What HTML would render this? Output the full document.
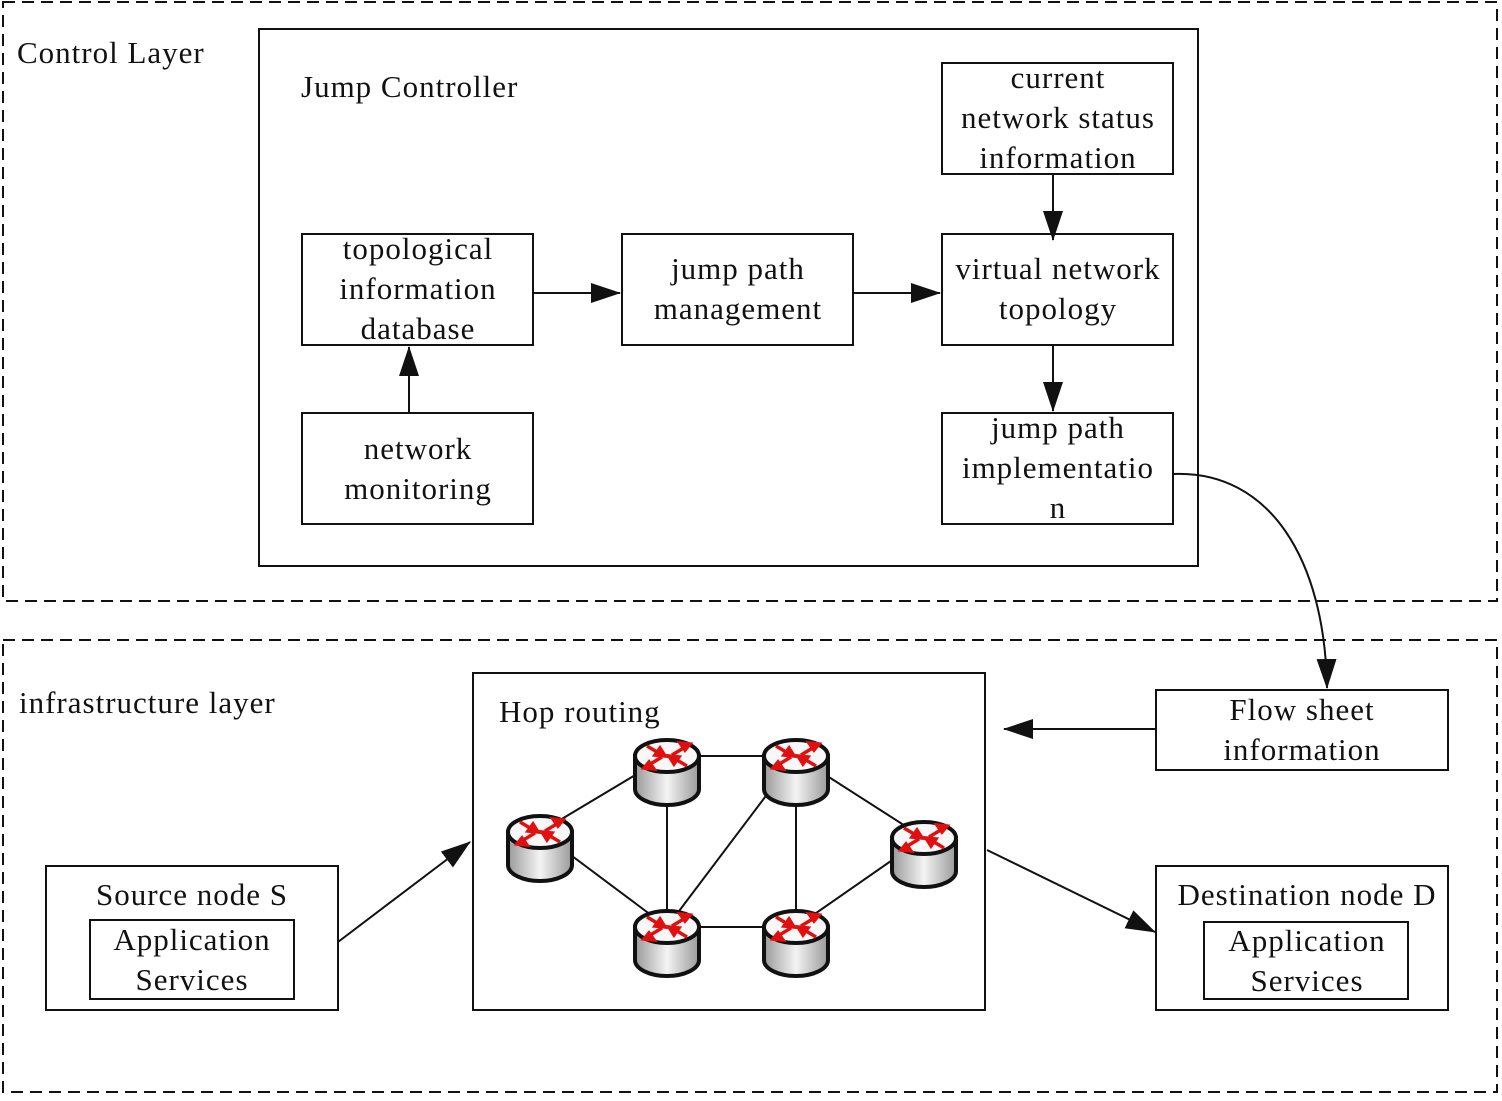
<!DOCTYPE html>
<html><head><style>
body{margin:0;background:#fff}
svg text{font-family:"Liberation Serif",serif;font-size:31px;fill:#111;letter-spacing:1px}
</style></head><body>
<svg width="1502" height="1096" viewBox="0 0 1502 1096" xmlns="http://www.w3.org/2000/svg">
<defs>
<marker id="b" markerWidth="30" markerHeight="20" refX="29" refY="10" orient="auto" markerUnits="userSpaceOnUse" viewBox="0 0 30 20"><path d="M0,0 L30,10 L0,20 z" fill="#111"/></marker>
<linearGradient id="g" x1="0" x2="1"><stop offset="0" stop-color="#999"/><stop offset="0.5" stop-color="#f4f4f4"/><stop offset="1" stop-color="#999"/></linearGradient>
<g id="r">
<path d="M-32,-16 L-32,17 A32,16 0 0 0 32,17 L32,-16 z" fill="url(#g)" stroke="#111" stroke-width="4"/>
<ellipse cx="0" cy="-16" rx="32" ry="16" fill="#f8f8f8" stroke="#111" stroke-width="4"/>
<g stroke="#e01010" stroke-width="3.5" fill="#e01010">
<line x1="-20" y1="-26" x2="-5" y2="-17"/><line x1="5" y1="-15" x2="20" y2="-6"/>
<line x1="20" y1="-26" x2="5" y2="-17"/><line x1="-5" y1="-15" x2="-20" y2="-6"/>
<path d="M-2,-16 l-10,-1 l5,-7z"/><path d="M23,-28 l-10,-1 l5,7z"/><path d="M-23,-4 l10,1 l-5,-7z"/><path d="M2,-16 l10,1 l-5,7z"/>
</g></g>
</defs>
<g fill="none" stroke="#111" stroke-width="2">
<rect x="3" y="2" width="1494" height="599" stroke-dasharray="12,7"/>
<rect x="3" y="640" width="1494" height="452" stroke-dasharray="12,7"/>
<rect x="259" y="29" width="939" height="537"/>
<rect x="942" y="63" width="231" height="111"/>
<rect x="302" y="234" width="231" height="111"/>
<rect x="622" y="234" width="231" height="111"/>
<rect x="942" y="234" width="231" height="111"/>
<rect x="302" y="413" width="231" height="111"/>
<rect x="942" y="413" width="231" height="111"/>
<rect x="473" y="673" width="512" height="337"/>
<rect x="1156" y="690" width="292" height="80"/>
<rect x="46" y="866" width="292" height="144"/>
<rect x="90" y="920" width="204" height="79"/>
<rect x="1156" y="866" width="292" height="144"/>
<rect x="1204" y="922" width="204" height="77"/>
<line x1="533" y1="293" x2="620" y2="293" marker-end="url(#b)"/>
<line x1="853" y1="293" x2="940" y2="293" marker-end="url(#b)"/>
<line x1="1053" y1="174" x2="1053" y2="240" marker-end="url(#b)"/>
<line x1="1053" y1="345" x2="1053" y2="411" marker-end="url(#b)"/>
<line x1="409" y1="412" x2="409" y2="347" marker-end="url(#b)"/>
<path d="M1173,474 C1270,470 1325,560 1327,688" marker-end="url(#b)"/>
<line x1="1156" y1="729" x2="1004" y2="729" marker-end="url(#b)"/>
<line x1="338" y1="942" x2="470" y2="842" marker-end="url(#b)"/>
<line x1="987" y1="850" x2="1155" y2="932" marker-end="url(#b)"/>
<line x1="540" y1="832" x2="667" y2="756"/>
<line x1="667" y1="756" x2="796" y2="756"/>
<line x1="667" y1="756" x2="667" y2="927"/>
<line x1="540" y1="832" x2="667" y2="927"/>
<line x1="796" y1="756" x2="796" y2="927"/>
<line x1="796" y1="756" x2="667" y2="927"/>
<line x1="796" y1="756" x2="924" y2="838"/>
<line x1="667" y1="927" x2="796" y2="927"/>
<line x1="796" y1="927" x2="924" y2="838"/>
</g>
<use href="#r" x="540" y="848"/><use href="#r" x="667" y="772"/><use href="#r" x="796" y="772"/>
<use href="#r" x="924" y="854"/><use href="#r" x="667" y="943"/><use href="#r" x="796" y="943"/>
<text x="17" y="63">Control Layer</text>
<text x="301" y="97">Jump Controller</text>
<text x="19" y="713">infrastructure layer</text>
<text x="499" y="722">Hop routing</text>
<g text-anchor="middle">
<text x="1058" y="88">current</text><text x="1058" y="128">network status</text><text x="1058" y="168">information</text>
<text x="418" y="259">topological</text><text x="418" y="299">information</text><text x="418" y="339">database</text>
<text x="738" y="279">jump path</text><text x="738" y="319">management</text>
<text x="1058" y="279">virtual network</text><text x="1058" y="319">topology</text>
<text x="418" y="459">network</text><text x="418" y="499">monitoring</text>
<text x="1058" y="438">jump path</text><text x="1058" y="478">implementatio</text><text x="1058" y="518">n</text>
<text x="1302" y="720">Flow sheet</text><text x="1302" y="760">information</text>
<text x="192" y="905">Source node S</text><text x="192" y="950">Application</text><text x="192" y="990">Services</text>
<text x="1307" y="905">Destination node D</text><text x="1307" y="951">Application</text><text x="1307" y="991">Services</text>
</g>
</svg>
</body></html>
